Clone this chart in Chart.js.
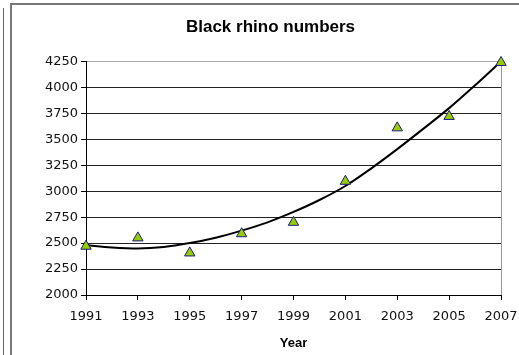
<!DOCTYPE html>
<html>
<head>
<meta charset="utf-8">
<script src="https://cdn.jsdelivr.net/npm/chart.js@4/dist/chart.umd.min.js"></script>
<style>
    body { margin: 0; background: #fff; }
    #wrap { position: relative; width: 519px; height: 355px; overflow: hidden; }
    .line-izq { position: absolute; left: 3px; top: 8px; bottom: 0; border-left: 1px solid #666; }
    .marco { position: absolute; left: 10px; top: 3px; right: -6px; bottom: -6px; border: 2px solid #777; }
    canvas { position: absolute; left: 0; top: 0; }
</style>
</head>
<body>
<div id="wrap">
    <div class="line-izq"></div>
    <div class="marco"></div>
    <canvas id="rinoChart" width="519" height="355"></canvas>
</div>
<script>
const years = [1991, 1993, 1995, 1997, 1999, 2001, 2003, 2005, 2007];
const rhinoNumbers = [2470, 2550, 2405, 2590, 2700, 3095, 3610, 3720, 4240];

// tendencia, un punto por año
const trendYears = [1991, 1992, 1993, 1994, 1995, 1996, 1997, 1998, 1999, 2000, 2001, 2002, 2003, 2004, 2005, 2006, 2007];
const trendValues = [2480, 2458, 2448, 2462, 2500, 2552, 2620, 2700, 2800, 2915, 3050, 3220, 3405, 3600, 3800, 4020, 4250];

const yMin = 2000;
const yMax = 4250;
const yStep = 250;

const fuente = { family: "'DejaVu Sans', sans-serif", size: 13 };

const ctx = document.getElementById('rinoChart').getContext('2d');
new Chart(ctx, {
    type: 'scatter',
    data: {
        datasets: [{
            label: 'Trend',
            type: 'line',
            data: trendYears.map((y, i) => ({ x: y, y: trendValues[i] })),
            borderColor: '#000',
            borderWidth: 2,
            pointRadius: 0,
            fill: false,
            cubicInterpolationMode: 'monotone',
            clip: false,
            order: 2
        }, {
            label: 'Black rhino numbers',
            data: years.map((y, i) => ({ x: y, y: rhinoNumbers[i] })),
            pointStyle: 'triangle',
            pointRadius: 6,
            pointBackgroundColor: '#99cc00',
            pointBorderColor: '#1a1a80',
            pointBorderWidth: 1,
            clip: false,
            order: 1
        }]
    },
    options: {
        responsive: false,
        animation: false,
        layout: { padding: { left: 40, right: 18, top: 0, bottom: 0 } },
        plugins: {
            legend: { display: false },
            tooltip: { enabled: false },
            title: {
                display: true,
                text: 'Black rhino numbers',
                color: '#000',
                font: { family: "'Liberation Sans', Arial, sans-serif", size: 17, weight: 'bold' },
                padding: { top: 17, bottom: 24 }
            }
        },
        scales: {
            x: {
                type: 'linear',
                min: years[0],
                max: years[years.length - 1],
                afterBuildTicks: (scale) => { scale.ticks = years.map(v => ({ value: v })); },
                afterFit: (scale) => {
                    scale.height = 60;
                    scale.paddingLeft = 0;
                    scale.paddingRight = 0;
                },
                ticks: {
                    color: '#111',
                    font: fuente,
                    padding: 9,
                    maxRotation: 0,
                    callback: (v) => String(v)
                },
                grid: {
                    color: (c) => (c.tick && c.tick.value === 2007 ? '#999' : 'transparent'),
                    tickColor: '#000',
                    tickLength: 5,
                    lineWidth: 1
                },
                border: { color: '#000', width: 1 },
                title: {
                    display: true,
                    text: 'Year',
                    color: '#000',
                    font: { family: "'Liberation Sans', Arial, sans-serif", size: 13, weight: 'bold' },
                    padding: { top: 4, bottom: 4 }
                }
            },
            y: {
                min: yMin,
                max: yMax,
                afterFit: (scale) => { scale.width = 46; },
                ticks: {
                    stepSize: yStep,
                    color: '#111',
                    font: fuente,
                    padding: 3,
                    callback: (v) => String(v)
                },
                grid: {
                    color: (c) => (c.tick && c.tick.value === yMax ? '#aaa' : '#222'),
                    tickColor: '#000',
                    tickLength: 5,
                    lineWidth: 1
                },
                border: { color: '#000', width: 1 }
            }
        }
    }
});
</script>
</body>
</html>
